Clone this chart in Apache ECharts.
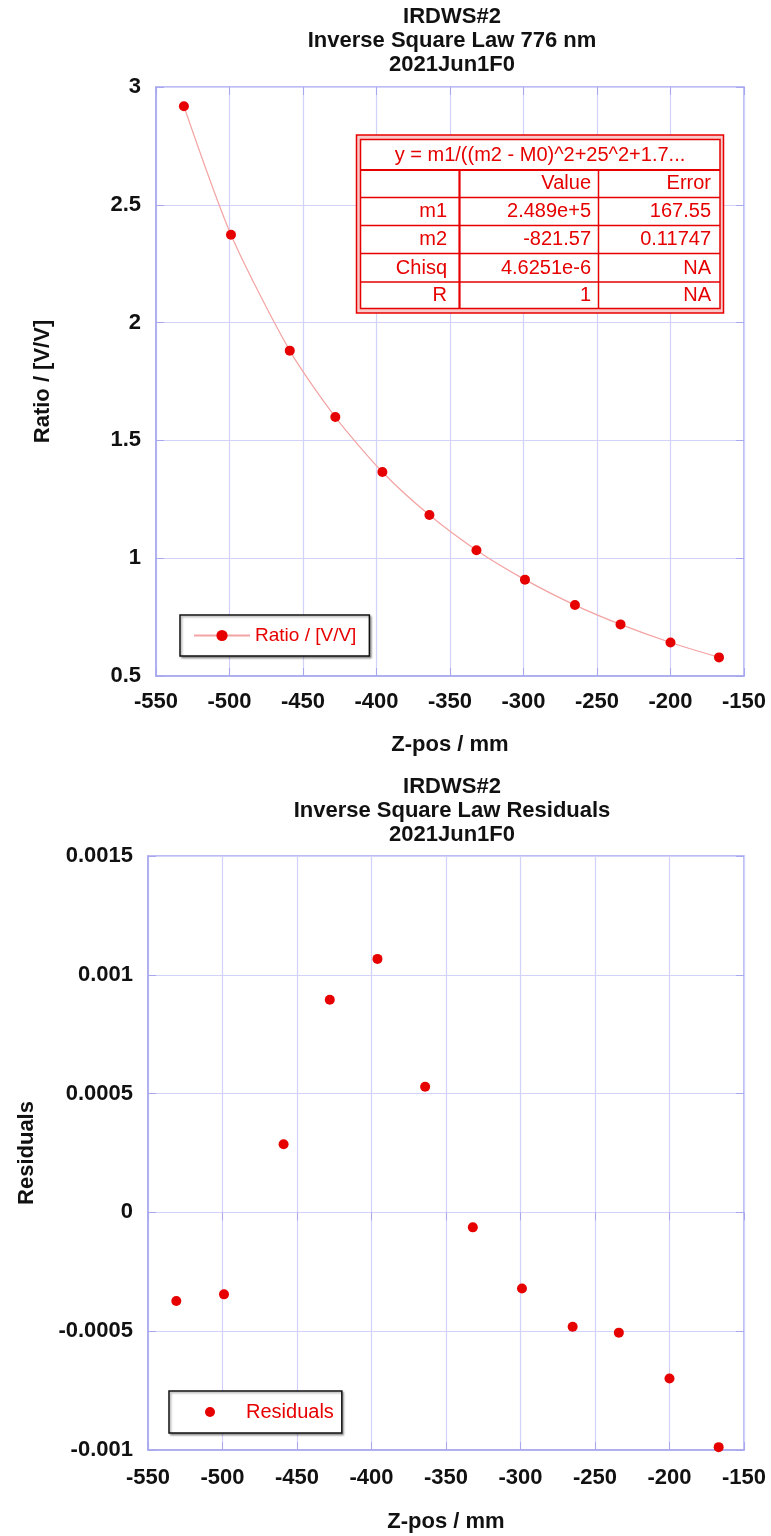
<!DOCTYPE html>
<html>
<head>
<meta charset="utf-8">
<title>IRDWS#2 Inverse Square Law</title>
<script src="https://cdn.jsdelivr.net/npm/echarts@6/dist/echarts.min.js"></script>
<style>
  html, body { margin: 0; padding: 0; background: #fff; }
  #chart { width: 771px; height: 1536px; }
</style>
</head>
<body>
<div id="chart"></div>
<script>
// measured positions (Z-pos / mm)
const zPos = [-531, -499, -459, -428, -396, -364, -332, -299, -265, -234, -200, -167];
// ratio V/V at each position
const ratio = [2.918, 2.373, 1.881, 1.599, 1.366, 1.183, 1.034, 0.909, 0.801, 0.719, 0.642, 0.579];
// fit residuals
const residuals = [-0.000373, -0.000345, 0.000287, 0.000895, 0.001067, 0.000529,
  -0.000063, -0.00032, -0.000481, -0.000506, -0.000699, -0.000988];

const zTicks = ['-550', '-500', '-450', '-400', '-350', '-300', '-250', '-200', '-150'];
const ratioTicks = ['0.5', '1', '1.5', '2', '2.5', '3'];
const residTicks = ['-0.001', '-0.0005', '0', '0.0005', '0.001', '0.0015'];

// fit result table
const fitFormula = 'y = m1/((m2 - M0)^2+25^2+1.7...';
const fitHeader = ['', 'Value', 'Error'];
const fitRows = [
  ['m1', '2.489e+5', '167.55'],
  ['m2', '-821.57', '0.11747'],
  ['Chisq', '4.6251e-6', 'NA'],
  ['R', '1', 'NA']
];

const FONT = "'Liberation Sans', Arial, sans-serif";
const RED = '#e60000';
const GRID_LINE = '#d2d2f8';
const AXIS_LINE = '#a8a8f0';

const boldText = { fontFamily: FONT, fontSize: 22, fontWeight: 'bold', color: '#111' };

function xMain(gridIndex, labelMargin, nameGap) {
  return {
    type: 'value', gridIndex, min: -550, max: -150, interval: 50,
    name: 'Z-pos / mm', nameLocation: 'middle', nameGap,
    nameTextStyle: boldText,
    axisLine: { show: true, onZero: false, lineStyle: { color: AXIS_LINE, width: 1.5 } },
    axisTick: { show: true, inside: true, length: 8, lineStyle: { color: AXIS_LINE } },
    axisLabel: Object.assign({ margin: labelMargin, formatter: (v, i) => zTicks[i] }, boldText),
    splitLine: { show: true, lineStyle: { color: GRID_LINE, width: 1.2 } }
  };
}

function yMain(gridIndex, min, max, interval, ticks, name, nameGap) {
  return {
    type: 'value', gridIndex, min, max, interval,
    name, nameLocation: 'middle', nameGap,
    nameTextStyle: boldText,
    axisLine: { show: true, onZero: false, lineStyle: { color: AXIS_LINE, width: 1.5 } },
    axisTick: { show: true, inside: true, length: 8, lineStyle: { color: AXIS_LINE } },
    axisLabel: Object.assign({ margin: 15, formatter: (v, i) => ticks[i] }, boldText),
    splitLine: { show: true, lineStyle: { color: GRID_LINE, width: 1.2 } }
  };
}

// ticks on the top / right frame
function sideAxis(gridIndex, position, min, max, interval) {
  return {
    type: 'value', gridIndex, position, min, max, interval,
    axisLine: { show: false },
    axisTick: { show: true, inside: true, length: 8, lineStyle: { color: AXIS_LINE } },
    axisLabel: { show: false },
    splitLine: { show: false }
  };
}

function titleText(lines, top) {
  return {
    type: 'text', x: 452, y: top, z: 10,
    style: {
      text: lines.join('\n'), align: 'center', verticalAlign: 'top',
      font: 'bold 22px ' + FONT, lineHeight: 24, fill: '#111'
    }
  };
}

// fit table drawn as graphic, above the grid lines
const tblLeft = 356.5, tblTop = 135, tblW = 367, tblH = 178;
const rowLines = [170, 197.5, 225.5, 253.5, 282];
const colLines = [459.5, 598.5];
const colRight = [447, 591, 711];
const rowMid = [183.5, 211.5, 239.5, 268, 295.5];

const tableEls = [
  { type: 'rect', z: 100, shape: { x: tblLeft, y: tblTop, width: tblW, height: tblH },
    style: { fill: '#f8caca', stroke: RED, lineWidth: 1.5 } },
  { type: 'rect', z: 101, shape: { x: tblLeft + 4, y: tblTop + 4.5, width: tblW - 7.5, height: tblH - 9 },
    style: { fill: '#fff', stroke: RED, lineWidth: 1.5 } }
];
rowLines.forEach((y, i) => {
  tableEls.push({ type: 'line', z: 102, shape: { x1: tblLeft + 4, y1: y, x2: tblLeft + tblW - 3.5, y2: y },
    style: { stroke: RED, lineWidth: i === 0 ? 2.2 : 1.5 } });
});
colLines.forEach((x, i) => {
  tableEls.push({ type: 'line', z: 102, shape: { x1: x, y1: rowLines[0], x2: x, y2: tblTop + tblH - 4.5 },
    style: { stroke: RED, lineWidth: i === 0 ? 2.2 : 1.5 } });
});
tableEls.push({ type: 'text', z: 103, x: 540, y: 155,
  style: { text: fitFormula, align: 'center', verticalAlign: 'middle', font: '20px ' + FONT, fill: RED } });
[fitHeader].concat(fitRows).forEach((row, r) => {
  row.forEach((cell, c) => {
    if (!cell) return;
    tableEls.push({ type: 'text', z: 103, x: colRight[c], y: rowMid[r],
      style: { text: cell, align: 'right', verticalAlign: 'middle', font: '20px ' + FONT, fill: RED } });
  });
});

const chart = echarts.init(document.getElementById('chart'), null, { renderer: 'canvas' });
chart.setOption({
  backgroundColor: '#fff',
  animation: false,
  grid: [
    { left: 156, top: 87, width: 588, height: 589, show: true, borderColor: AXIS_LINE, borderWidth: 1.5, backgroundColor: 'transparent' },
    { left: 148, top: 856, width: 596, height: 594, show: true, borderColor: AXIS_LINE, borderWidth: 1.5, backgroundColor: 'transparent' }
  ],
  xAxis: [
    xMain(0, 15, 58),
    sideAxis(0, 'top', -550, -150, 50),
    xMain(1, 17, 61),
    sideAxis(1, 'top', -550, -150, 50)
  ],
  yAxis: [
    yMain(0, 0.5, 3, 0.5, ratioTicks, 'Ratio / [V/V]', 102),
    sideAxis(0, 'right', 0.5, 3, 0.5),
    yMain(1, -0.001, 0.0015, 0.0005, residTicks, 'Residuals', 110),
    sideAxis(1, 'right', -0.001, 0.0015, 0.0005)
  ],
  legend: [
    {
      data: ['Ratio / [V/V]'], left: 180, top: 615,
      padding: [11, 13, 11, 13], itemWidth: 56, itemHeight: 14,
      backgroundColor: '#fff', borderColor: '#111', borderWidth: 1.5,
      shadowColor: 'rgba(0,0,0,0.35)', shadowBlur: 2, shadowOffsetX: 1.5, shadowOffsetY: 1.5,
      textStyle: { fontFamily: FONT, fontSize: 19, color: RED }
    },
    {
      data: ['Residuals'], left: 169, top: 1391,
      padding: [11, 8, 11, 36], itemWidth: 62, itemHeight: 10,
      backgroundColor: '#fff', borderColor: '#111', borderWidth: 1.5,
      shadowColor: 'rgba(0,0,0,0.35)', shadowBlur: 2, shadowOffsetX: 1.5, shadowOffsetY: 1.5,
      textStyle: { fontFamily: FONT, fontSize: 20, color: RED }
    }
  ],
  series: [
    {
      name: 'Ratio / [V/V]', type: 'line', xAxisIndex: 0, yAxisIndex: 0,
      data: zPos.map((z, i) => [z, ratio[i]]),
      smooth: 0.25,
      symbol: 'circle', symbolSize: 10,
      lineStyle: { color: '#f4a3a3', width: 1.2 },
      itemStyle: { color: RED }
    },
    {
      name: 'Residuals', type: 'scatter', xAxisIndex: 2, yAxisIndex: 2,
      data: zPos.map((z, i) => [z, residuals[i]]),
      symbol: 'circle', symbolSize: 10,
      itemStyle: { color: RED, opacity: 1 }
    }
  ],
  graphic: [
    titleText(['IRDWS#2', 'Inverse Square Law 776 nm', '2021Jun1F0'], 5),
    titleText(['IRDWS#2', 'Inverse Square Law Residuals', '2021Jun1F0'], 775)
  ].concat(tableEls)
});
window.addEventListener('resize', () => chart.resize());
</script>
</body>
</html>
